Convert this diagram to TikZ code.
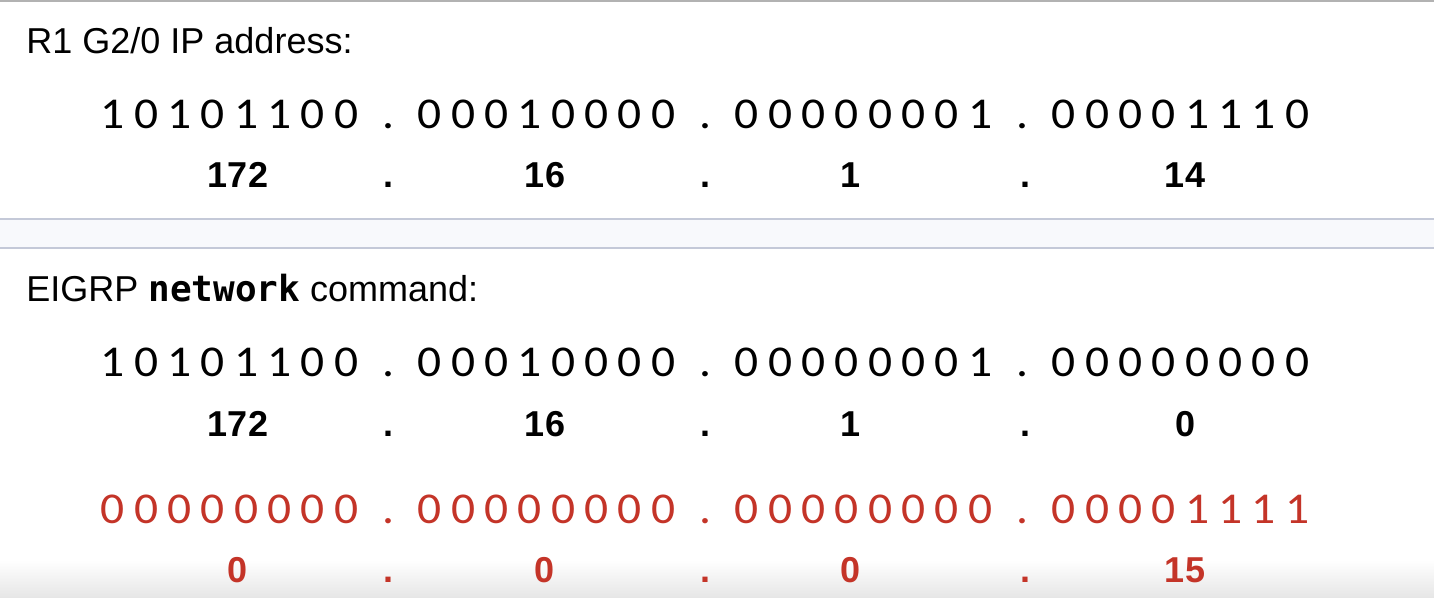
\documentclass[tikz,border=0pt]{standalone}
\usepackage{fontspec}
\setmainfont{Liberation Sans}
\newfontfamily\codefont{DejaVu Sans Mono}
\newfontfamily\bitfont[Numbers=Lining, FakeStretch=1.08]{Carlito}
\definecolor{maskred}{RGB}{196,52,40}
\definecolor{rulegray}{RGB}{196,201,216}
\definecolor{bandfill}{RGB}{248,249,252}
\newcommand{\slidesize}{\fontsize{18}{22}\selectfont}
\newcommand{\bitsize}{\fontsize{22}{26}\selectfont}

% one row of four octets, bit by bit
\newcommand{\bitrow}[4]{%
  \foreach \bits [count=\k from 0] in {#4} {
    \foreach \b [count=\j from 0] in \bits
      \node[bit, #3] (#1-\k-\j) at ({113+317*\k+33.3*\j},#2) {\b};
  }
  \foreach \k in {1,2,3}
    \node[bit, #3] (#1-dot\k) at ({388+317*(\k-1)},#2) {.};
}

\begin{document}
\begin{tikzpicture}[x=0.5pt, y=-0.5pt,
  title/.style={anchor=base west, inner sep=0pt, font=\slidesize},
  bit/.style={anchor=base, inner sep=0pt, font=\bitfont\bitsize},
  dec/.style={anchor=base, inner sep=0pt, font=\slidesize\bfseries},
  mask/.style={text=maskred}]
  \useasboundingbox (0,0) rectangle (1434,598);

  % page background, separator band and shadow
  \fill[white] (0,0) rectangle (1434,598);
  \draw[gray!60, line width=1pt] (0,1) -- (1434,1);
  \fill[bandfill] (0,219) rectangle (1434,248);
  \draw[rulegray, line width=0.8pt] (0,219) -- (1434,219);
  \draw[rulegray, line width=0.8pt] (0,248) -- (1434,248);
  \shade[top color=white, bottom color=black!10] (0,560) rectangle (1434,598);

  % interface address
  \node[title] (iptitle) at (26,54) {R1 G2/0 IP address:};
  \bitrow{ipbin}{129}{}{{1,0,1,0,1,1,0,0},{0,0,0,1,0,0,0,0},{0,0,0,0,0,0,0,1},{0,0,0,0,1,1,1,0}}
  \node[dec] (ipa) at (238,188) {172};
  \node[dec] (ipda) at (388,188) {.};
  \node[dec] (ipb) at (545,188) {16};
  \node[dec] (ipdb) at (705,188) {.};
  \node[dec] (ipc) at (850,188) {1};
  \node[dec] (ipdc) at (1025,188) {.};
  \node[dec] (ipd) at (1185,188) {14};

  % network statement
  \node[title] (nettitle) at (26,302) {EIGRP {\codefont\bfseries network} command:};
  \bitrow{netbin}{377}{}{{1,0,1,0,1,1,0,0},{0,0,0,1,0,0,0,0},{0,0,0,0,0,0,0,1},{0,0,0,0,0,0,0,0}}
  \node[dec] (neta) at (238,437) {172};
  \node[dec] (netda) at (388,437) {.};
  \node[dec] (netb) at (545,437) {16};
  \node[dec] (netdb) at (705,437) {.};
  \node[dec] (netc) at (850,437) {1};
  \node[dec] (netdc) at (1025,437) {.};
  \node[dec] (netd) at (1185,437) {0};

  % wildcard mask
  \bitrow{wildbin}{523}{mask}{{0,0,0,0,0,0,0,0},{0,0,0,0,0,0,0,0},{0,0,0,0,0,0,0,0},{0,0,0,0,1,1,1,1}}
  \node[dec, mask] (wilda) at (238,582) {0};
  \node[dec, mask] (wildda) at (388,582) {.};
  \node[dec, mask] (wildb) at (545,582) {0};
  \node[dec, mask] (wilddb) at (705,582) {.};
  \node[dec, mask] (wildc) at (850,582) {0};
  \node[dec, mask] (wilddc) at (1025,582) {.};
  \node[dec, mask] (wildd) at (1185,582) {15};
\end{tikzpicture}
\end{document}
